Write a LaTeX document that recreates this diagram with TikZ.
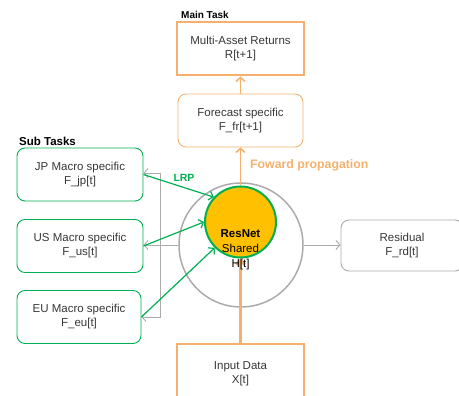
\documentclass[tikz,border=0pt]{standalone}
\usepackage{fontspec}
\setmainfont{Liberation Sans}
\usetikzlibrary{arrows.meta}
\definecolor{org}{RGB}{244,177,110}
\definecolor{grn}{RGB}{0,176,80}
\definecolor{gry}{RGB}{174,170,170}
\definecolor{ylw}{RGB}{255,192,0}
\definecolor{txt}{RGB}{55,55,55}
\tikzset{
  boxtext/.style={align=center, text=txt, inner sep=0pt, font=\fontsize{11.5}{14}\selectfont},
  thickbox/.style={boxtext, draw=org, line width=2pt, minimum width=127pt, minimum height=53pt},
  orgbox/.style={boxtext, draw=org, line width=0.9pt, rounded corners=8pt, minimum width=125pt, minimum height=53pt},
  grnbox/.style={boxtext, draw=grn, line width=0.9pt, rounded corners=8pt, minimum width=126pt, minimum height=53pt},
  grybox/.style={boxtext, draw=gry, line width=0.9pt, rounded corners=8pt, minimum width=122pt, minimum height=51pt},
  tip/.style={-{Straight Barb[length=4pt,width=9pt]}},
  garrow/.style={tip, draw=gry, line width=0.9pt},
  narrow/.style={tip, draw=grn, line width=1.2pt},
  oarrow/.style={tip, draw=org, line width=1.5pt},
  bigoarrow/.style={tip, draw=org, line width=3pt},
  lbl/.style={font=\fontsize{10}{12}\selectfont\bfseries, inner sep=0pt}
}
\begin{document}
\begin{tikzpicture}[x=1pt,y=-1pt]
\useasboundingbox (0,0) rectangle (459,396);
\clip (0,0) rectangle (459,396);
\node[thickbox] (main) at (240.5,49) {Multi-Asset Returns\\R[t+1]};
\node[orgbox] (fore) at (240.5,120.5) {Forecast specific\\F\_fr[t+1]};
\node[grnbox] (jp) at (80,174.5) {JP Macro specific\\F\_jp[t]};
\node[grnbox] (us) at (80,246) {US Macro specific\\F\_us[t]};
\node[grnbox, minimum width=124pt] (eu) at (79,317) {EU Macro specific\\F\_eu[t]};
\node[grybox] (res) at (402,245.5) {Residual\\F\_rd[t]};
\node[thickbox, minimum height=60pt] (inp) at (240.5,374) {Input Data\\X[t]};
\node[circle, draw=gry, line width=1.5pt, minimum size=124pt, inner sep=0pt] (bigc) at (241,245) {};
\node[circle, draw=grn, fill=ylw, line width=2pt, minimum size=71pt, inner sep=0pt] (rn) at (240.5,222) {};
\node[lbl, anchor=west] (mt) at (181,15) {Main Task};
\node[lbl, anchor=west, font=\fontsize{11.5}{13}\selectfont\bfseries] (st) at (19,141) {Sub Tasks};
\node[lbl, text=grn, font=\fontsize{10.5}{13}\selectfont\bfseries] (lrp) at (184,178) {LRP};
\node[lbl, text=org, anchor=west, font=\fontsize{12.3}{14}\selectfont\bfseries] (fp) at (250,165) {Foward propagation};
% gray connectors
\coordinate (bx) at (160,245);
\draw[garrow] (bigc.west) -- (bigc.west -| us.east);
\draw[garrow] (bx) |- ([yshift=1.5pt]jp.east);
\draw[garrow] (bx) |- (eu.east);
\draw[garrow] (bigc.east) -- (bigc.east -| res.west);
% green LRP
\draw[narrow] (jp.east) -- (rn.137);
\draw[narrow] (us.east) -- (rn.180);
\draw[narrow] (eu.east) -- (rn.225);
% orange
\draw[oarrow] (rn.north) -- (fore.south);
\draw[oarrow] (fore.north) -- (main.south);
\draw[bigoarrow] (inp.north) -- (rn.south);
\node[align=center, inner sep=0pt, font=\fontsize{11.5}{15}\selectfont] (rt) at (240.5,250) {\textbf{ResNet}\\Shared\\H[t]};
\end{tikzpicture}
\end{document}
